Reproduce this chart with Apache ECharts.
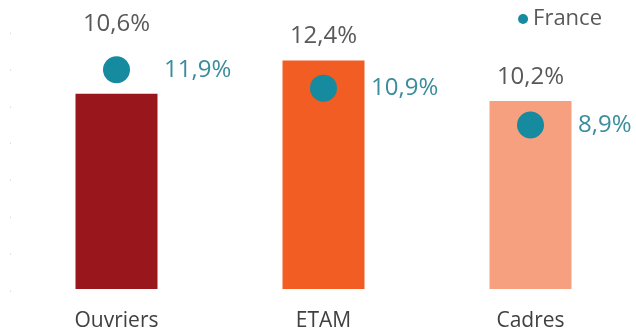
<!DOCTYPE html>
<html>
<head>
<meta charset="utf-8">
<script src="https://cdn.jsdelivr.net/npm/echarts@6/dist/echarts.min.js"></script>
<style>
  html, body { margin: 0; padding: 0; background: #fff; }
  #chart { width: 636px; height: 333px; }
</style>
</head>
<body>
<div id="chart"></div>
<script>
// Categories and values (percent)
const categories = ['Ouvriers', 'ETAM', 'Cadres'];
const sectorValues = [10.6, 12.4, 10.2];
const franceValues = [11.9, 10.9, 8.9];
const barColors = ['#99161c', '#f15d22', '#f7a07f'];
const yTicks = [0, 2, 4, 6, 8, 10, 12, 14];

const fmt = v => v.toFixed(1).replace('.', ',') + '%';
const FONT = '"Open Sans", "Noto Sans", sans-serif';

const chart = echarts.init(document.getElementById('chart'), null, { renderer: 'canvas' });

chart.setOption({
  animation: false,
  textStyle: { fontFamily: FONT },
  grid: { left: 13, right: 2, top: 31, bottom: 44 },
  legend: {
    data: [{ name: 'France', icon: 'circle' }],
    right: 29,
    top: 3,
    itemWidth: 10,
    itemHeight: 10,
    itemGap: 6,
    textStyle: { fontFamily: FONT, fontSize: 22, color: '#595959' }
  },
  xAxis: {
    type: 'category',
    data: categories,
    axisLine: { show: false },
    axisTick: { show: false },
    axisLabel: { fontFamily: FONT, fontSize: 21, color: '#404040', margin: 22 }
  },
  yAxis: {
    type: 'value',
    min: yTicks[0],
    max: yTicks[yTicks.length - 1],
    interval: 2,
    splitLine: { show: false },
    axisLine: { show: false },
    axisTick: { show: false },
    axisLabel: { formatter: () => '.', color: '#d9d9d9', fontSize: 10, margin: 1 }
  },
  series: [
    {
      name: 'Secteur',
      type: 'bar',
      barWidth: 82,
      data: sectorValues.map((v, i) => ({
        value: v,
        itemStyle: { color: barColors[i] },
        label: i === 0 ? { offset: [0, -46] } : {}
      })),
      label: {
        show: true,
        position: 'top',
        distance: 12,
        formatter: p => fmt(p.value),
        fontFamily: FONT,
        fontSize: 24,
        color: '#595959'
      },
      z: 1
    },
    {
      name: 'France',
      type: 'scatter',
      symbol: 'circle',
      symbolSize: 27,
      data: franceValues,
      itemStyle: { color: '#168a9f', opacity: 1 },
      label: {
        show: true,
        position: 'right',
        distance: 34,
        formatter: p => fmt(p.value),
        fontFamily: FONT,
        fontSize: 24,
        color: '#3a8d9c'
      },
      z: 3
    }
  ]
});
</script>
</body>
</html>
